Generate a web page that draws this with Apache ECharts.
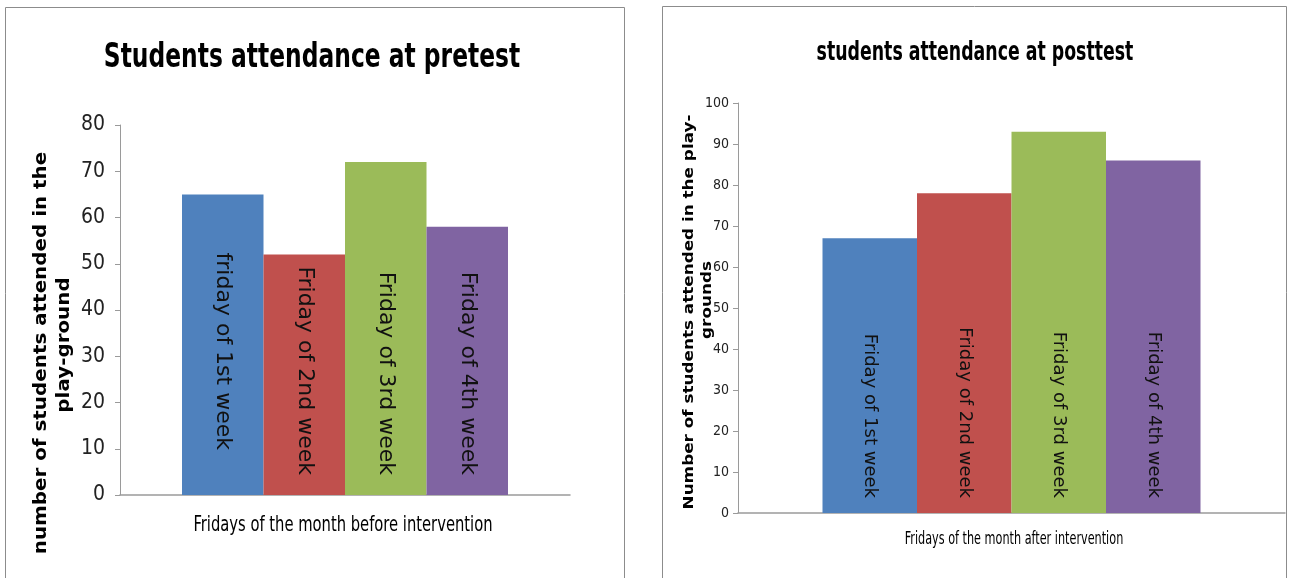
<!DOCTYPE html>
<html>
<head>
<meta charset="utf-8">
<script src="https://cdn.jsdelivr.net/npm/echarts@6/dist/echarts.min.js"></script>
<style>
  html, body { margin: 0; padding: 0; background: #fff; }
  #main { width: 1289px; height: 578px; }
</style>
</head>
<body>
<div id="main"></div>
<script>
// data
const preWeeks = ['friday of 1st week', 'Friday of 2nd week', 'Friday of 3rd week', 'Friday of 4th week']
const preValues = [65, 52, 72, 58]
const postWeeks = ['Friday of 1st week', 'Friday of 2nd week', 'Friday of 3rd week', 'Friday of 4th week']
const postValues = [67, 78, 93, 86]
const preTicks = { min: 0, max: 80, interval: 10 }
const postTicks = { min: 0, max: 100, interval: 10 }

const colorList = ['#4F81BD', '#C0504D', '#9BBB59', '#8064A2']
const narrow = "'Liberation Sans Narrow', 'DejaVu Sans Condensed', 'Liberation Sans', sans-serif"
const verdana = "'DejaVu Sans', Verdana, sans-serif"

const chart = echarts.init(document.getElementById('main'))

function yAxisFor(ticks, gridIndex, labelSize, margin){
    return {
        type: 'value',
        gridIndex: gridIndex,
        min: ticks.min,
        max: ticks.max,
        interval: ticks.interval,
        axisLine: { show: true, lineStyle: { color: '#9a9a9a' } },
        axisTick: { show: true, length: 5, lineStyle: { color: '#9a9a9a' } },
        splitLine: { show: false },
        axisLabel: {
            fontFamily: narrow,
            fontSize: labelSize,
            color: '#222',
            margin: margin
        }
    }
}

function xAxisFor(gridIndex){
    return {
        type: 'category',
        gridIndex: gridIndex,
        data: [''],
        axisLine: { show: true, lineStyle: { color: '#9a9a9a', width: 1.5 } },
        axisTick: { show: false },
        axisLabel: { show: false }
    }
}

function barsFor(names, values, axisIndex, width, fontSize, dists){
    return names.map((n, i) => ({
        type: 'bar',
        name: n,
        xAxisIndex: axisIndex,
        yAxisIndex: axisIndex,
        data: [values[i]],
        barWidth: width,
        barGap: '0%',
        itemStyle: { color: colorList[i] },
        label: {
            show: true,
            formatter: n,
            position: 'insideBottom',
            distance: dists[i],
            rotate: -90,
            align: 'right',
            verticalAlign: 'middle',
            fontFamily: verdana,
            fontSize: fontSize,
            color: '#111'
        }
    }))
}

// stretched text like the squeezed picture
function txt(text, x, y, size, opts){
    opts = opts || {}
    return {
        type: 'text',
        x: x,
        y: y,
        rotation: opts.rotation || 0,
        scaleX: opts.sx || 1,
        scaleY: opts.sy || 1,
        style: {
            text: text,
            fontFamily: opts.font || narrow,
            fontWeight: opts.bold ? 'bold' : 'normal',
            fontSize: size,
            fill: '#000',
            align: 'center',
            verticalAlign: 'middle'
        }
    }
}

const option = {
    animation: false,
    grid: [
        { left: 120, top: 125, width: 450, height: 370 },
        { left: 738, top: 103, width: 547, height: 410 }
    ],
    xAxis: [xAxisFor(0), xAxisFor(1)],
    yAxis: [yAxisFor(preTicks, 0, 21, 15), yAxisFor(postTicks, 1, 14, 9)],
    series: [].concat(
        barsFor(preWeeks, preValues, 0, 81.5, 22, [45, 20, 20, 20]),
        barsFor(postWeeks, postValues, 1, 94.5, 18, [15, 15, 15, 15])
    ),
    graphic: [
        { type: 'rect', shape: { x: 5.5, y: 7.5, width: 619, height: 600 }, style: { fill: null, stroke: '#8c8c8c', lineWidth: 1 }, z: -1 },
        { type: 'rect', shape: { x: 662.5, y: 6.5, width: 624, height: 600 }, style: { fill: null, stroke: '#8c8c8c', lineWidth: 1 }, z: -1 },
        txt('Students attendance at pretest', 312, 58, 26, { bold: true, sy: 1.3 }),
        txt('students attendance at posttest', 975, 53, 19.3, { bold: true, sy: 1.35 }),
        txt('Fridays of the month before intervention', 343, 526, 16.4, { sy: 1.25 }),
        txt('Fridays of the month after intervention', 1014, 539, 12.5, { sy: 1.4 }),
        txt('number of students attended in the', 42, 353, 17, { font: verdana, bold: true, rotation: Math.PI / 2, sx: 1.17 }),
        txt('play-ground', 65, 345, 17, { font: verdana, bold: true, rotation: Math.PI / 2, sx: 1.17 }),
        txt('Number of students attended in the play-', 689, 312, 14.5, { font: verdana, bold: true, rotation: Math.PI / 2, sx: 1.16 }),
        txt('grounds', 707, 300, 14.5, { font: verdana, bold: true, rotation: Math.PI / 2, sx: 1.16 })
    ]
}

chart.setOption(option)
</script>
</body>
</html>
